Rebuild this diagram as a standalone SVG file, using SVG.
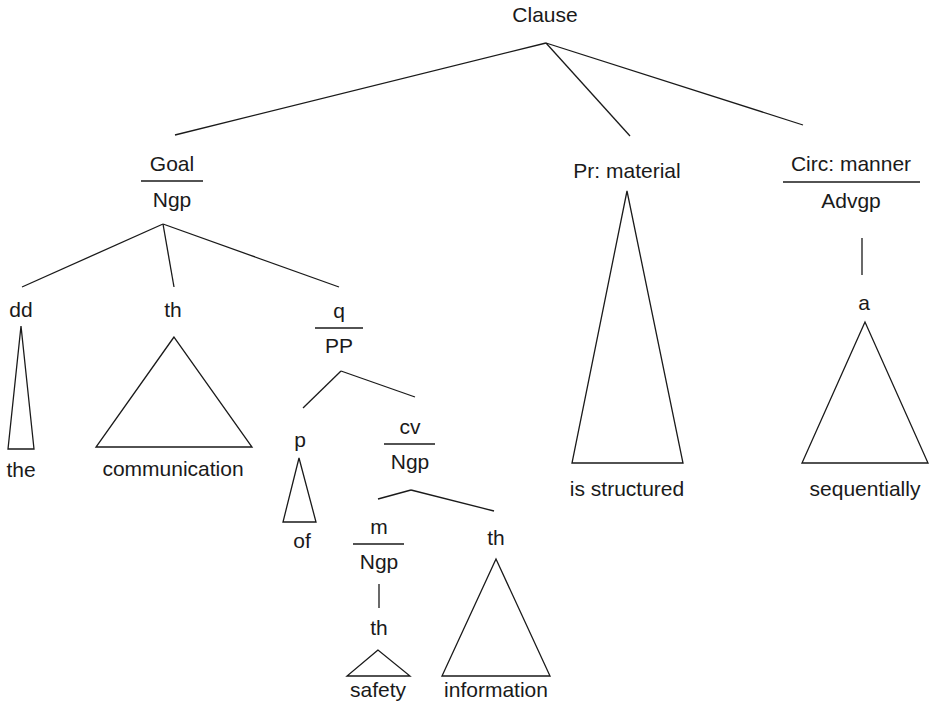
<svg xmlns="http://www.w3.org/2000/svg" width="931" height="705" viewBox="0 0 931 705">
<style>
text{font-family:"Liberation Sans",Arial,Helvetica,sans-serif;font-size:21px;fill:#1a1a1a;text-anchor:middle}
line,polygon{stroke:#1a1a1a;stroke-width:1.3;fill:none}
</style>
<rect width="931" height="705" fill="#fff"/>
<g id="connectors">
<line x1="546" y1="43" x2="175" y2="135"/>
<line x1="546" y1="43" x2="630" y2="136"/>
<line x1="546" y1="43" x2="803" y2="125"/>
<line x1="163" y1="224" x2="22" y2="287"/>
<line x1="163" y1="224" x2="174" y2="287"/>
<line x1="163" y1="224" x2="339" y2="287"/>
<line x1="341" y1="371" x2="303" y2="408"/>
<line x1="341" y1="371" x2="415" y2="397"/>
<line x1="411" y1="490" x2="378" y2="499"/>
<line x1="411" y1="490" x2="494" y2="511"/>
<line x1="379" y1="584" x2="379" y2="608"/>
<line x1="862" y1="238" x2="862" y2="275"/>
<polygon points="21,326 8,449 34,449"/>
<polygon points="174,337 96,447 252,447"/>
<polygon points="299,458 283,522 316,522"/>
<polygon points="627,191 572,463 683,463"/>
<polygon points="865,322 802,463 928,463"/>
<polygon points="378,650 347,676 410,676"/>
<polygon points="496,559 442,676 550,676"/>
</g>
<g id="clause"><text x="545" y="22">Clause</text></g>
<g id="goal"><text x="172" y="171">Goal</text><line x1="141" y1="181" x2="203" y2="181"/><text x="172" y="207">Ngp</text></g>
<g id="pr"><text x="627" y="178">Pr: material</text></g>
<g id="circ"><text x="851" y="171">Circ: manner</text><line x1="783" y1="182" x2="920" y2="182"/><text x="851" y="208">Advgp</text></g>
<g id="dd"><text x="21" y="317">dd</text></g>
<g id="th1"><text x="173" y="317">th</text></g>
<g id="q"><text x="339" y="318">q</text><line x1="315" y1="328" x2="363" y2="328"/><text x="339" y="353">PP</text></g>
<g id="p"><text x="300" y="447">p</text></g>
<g id="cv"><text x="410" y="434">cv</text><line x1="384" y1="444" x2="435" y2="444"/><text x="410" y="469">Ngp</text></g>
<g id="m"><text x="379" y="534">m</text><line x1="353" y1="544" x2="404" y2="544"/><text x="379" y="569">Ngp</text></g>
<g id="th2"><text x="379" y="635">th</text></g>
<g id="th3"><text x="496" y="545">th</text></g>
<g id="a"><text x="864" y="310">a</text></g>
<g id="leaf-the"><text x="21" y="477">the</text></g>
<g id="leaf-communication"><text x="173" y="476">communication</text></g>
<g id="leaf-of"><text x="302" y="548">of</text></g>
<g id="leaf-is-structured"><text x="627" y="496">is structured</text></g>
<g id="leaf-sequentially"><text x="865" y="496">sequentially</text></g>
<g id="leaf-safety"><text x="378" y="697">safety</text></g>
<g id="leaf-information"><text x="496" y="697">information</text></g>
</svg>
